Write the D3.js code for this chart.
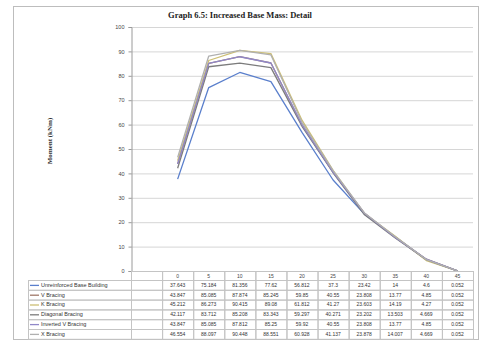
<!DOCTYPE html>
<html>
<head>
<meta charset="utf-8">
<script src="https://cdnjs.cloudflare.com/ajax/libs/d3/7.8.5/d3.min.js"></script>
<style>
  html, body { margin: 0; padding: 0; background: #fff; }
  svg { display: block; }
</style>
</head>
<body>
<div id="chart"></div>
<script>
// Category axis (first column of the plot is left empty)
const categories = ["", "0", "5", "10", "15", "20", "25", "30", "35", "40", "45"];
const yTicks = [0, 10, 20, 30, 40, 50, 60, 70, 80, 90, 100];

const seriesNames = [
  "Unreinforced Base Building",
  "V Bracing",
  "K Bracing",
  "Diagonal Bracing",
  "Inverted V Bracing",
  "X Bracing"
];

const unreinforced = [null, 37.643, 75.184, 81.356, 77.62, 56.812, 37.3, 23.42, 14.0, 4.6, 0.052];
const vBracing     = [null, 43.847, 85.085, 87.874, 85.245, 59.85, 40.55, 23.808, 13.77, 4.85, 0.052];
const kBracing     = [null, 45.212, 86.273, 90.415, 89.08, 61.812, 41.27, 23.603, 14.19, 4.27, 0.052];
const diagonal     = [null, 42.117, 83.712, 85.208, 83.343, 59.297, 40.271, 23.202, 13.503, 4.669, 0.052];
const invertedV    = [null, 43.847, 85.085, 87.812, 85.25, 59.92, 40.55, 23.808, 13.77, 4.85, 0.052];
const xBracing     = [null, 46.554, 88.097, 90.448, 88.551, 60.928, 41.137, 23.878, 14.007, 4.669, 0.052];

const seriesValues = [unreinforced, vBracing, kBracing, diagonal, invertedV, xBracing];
const seriesColors = ["#5a7fcc", "#a07868", "#cdbf74", "#7c7c7c", "#9088c8", "#b0b0b0"];

const W = 481, H = 340;
const plot = { left: 131, right: 473, top: 27, bottom: 271 };
const table = { labelLeft: 28, headerH: 9, rowH: 9.8 };

const svg = d3.select("#chart").append("svg")
  .attr("width", W).attr("height", H);

// chart frame
svg.append("rect")
  .attr("x", 13.5).attr("y", 6.5)
  .attr("width", 465).attr("height", 333)
  .attr("fill", "#fff").attr("stroke", "#bdbdbd");

// title
svg.append("text")
  .attr("x", 240).attr("y", 18)
  .attr("text-anchor", "middle")
  .attr("font-family", "Liberation Serif, serif")
  .attr("font-weight", "bold")
  .attr("font-size", 8.5)
  .attr("fill", "#222")
  .text("Graph 6.5: Increased Base Mass: Detail");

const x = d3.scaleBand().domain(categories).range([plot.left, plot.right]).padding(0);
const y = d3.scaleLinear().domain([0, 100]).range([plot.bottom, plot.top]);

// horizontal gridlines
svg.append("g")
  .selectAll("line")
  .data(yTicks.filter(d => d > 0))
  .join("line")
  .attr("x1", plot.left).attr("x2", plot.right)
  .attr("y1", d => y(d) + 0.5).attr("y2", d => y(d) + 0.5)
  .attr("stroke", "#d6d6d6").attr("stroke-width", 1);

// y axis
const yAxis = d3.axisLeft(y).tickValues(yTicks).tickSize(3).tickPadding(4);
const gy = svg.append("g")
  .attr("transform", `translate(${plot.left + 0.5},0)`)
  .call(yAxis);
gy.select(".domain").attr("stroke", "#9a9a9a");
gy.selectAll(".tick line").attr("stroke", "#9a9a9a");
gy.selectAll(".tick text")
  .attr("font-family", "Liberation Sans, sans-serif")
  .attr("font-size", 5.5)
  .attr("fill", "#444");

// y axis title
svg.append("text")
  .attr("transform", "translate(52,141) rotate(-90)")
  .attr("text-anchor", "middle")
  .attr("font-family", "Liberation Serif, serif")
  .attr("font-weight", "bold")
  .attr("font-size", 7)
  .attr("fill", "#333")
  .text("Moment (kNm)");

// series lines
const line = d3.line()
  .defined(d => d.v != null)
  .x(d => x(d.c) + x.bandwidth() / 2)
  .y(d => y(d.v));

svg.append("g")
  .selectAll("path")
  .data(seriesValues.map((vals, i) => ({ i, pts: vals.map((v, j) => ({ c: categories[j], v })) })))
  .join("path")
  .attr("d", d => line(d.pts))
  .attr("fill", "none")
  .attr("stroke", d => seriesColors[d.i])
  .attr("stroke-width", 1.3)
  .attr("stroke-linejoin", "round");

// data table
const gridColor = "#c4c4c4";
const tg = svg.append("g");
const headerTop = plot.bottom;
const rowsTop = headerTop + table.headerH;

// header cells
categories.forEach(c => {
  tg.append("rect")
    .attr("x", x(c) + 0.5).attr("y", headerTop + 0.5)
    .attr("width", x.bandwidth()).attr("height", table.headerH)
    .attr("fill", "none").attr("stroke", gridColor);
  tg.append("text")
    .attr("x", x(c) + x.bandwidth() / 2).attr("y", headerTop + 6.5)
    .attr("text-anchor", "middle")
    .attr("font-family", "Liberation Sans, sans-serif")
    .attr("font-size", 5)
    .attr("fill", "#444")
    .text(c);
});

const fmt = v => v == null ? "" : String(v);

seriesNames.forEach((name, i) => {
  const ry = rowsTop + i * table.rowH;
  // label cell
  tg.append("rect")
    .attr("x", table.labelLeft + 0.5).attr("y", ry + 0.5)
    .attr("width", plot.left - table.labelLeft).attr("height", table.rowH)
    .attr("fill", "none").attr("stroke", gridColor);
  tg.append("line")
    .attr("x1", table.labelLeft + 2).attr("x2", table.labelLeft + 11)
    .attr("y1", ry + table.rowH / 2 + 0.5).attr("y2", ry + table.rowH / 2 + 0.5)
    .attr("stroke", seriesColors[i]).attr("stroke-width", 1.3);
  tg.append("text")
    .attr("x", table.labelLeft + 13).attr("y", ry + 6.8)
    .attr("font-family", "Liberation Sans, sans-serif")
    .attr("font-size", 5.5)
    .attr("fill", "#333")
    .text(name);
  // value cells
  categories.forEach((c, j) => {
    tg.append("rect")
      .attr("x", x(c) + 0.5).attr("y", ry + 0.5)
      .attr("width", x.bandwidth()).attr("height", table.rowH)
      .attr("fill", "none").attr("stroke", gridColor);
    tg.append("text")
      .attr("x", x(c) + x.bandwidth() / 2).attr("y", ry + 6.8)
      .attr("text-anchor", "middle")
      .attr("font-family", "Liberation Sans, sans-serif")
      .attr("font-size", 5)
      .attr("fill", "#333")
      .text(fmt(seriesValues[i][j]));
  });
});
</script>
</body>
</html>
